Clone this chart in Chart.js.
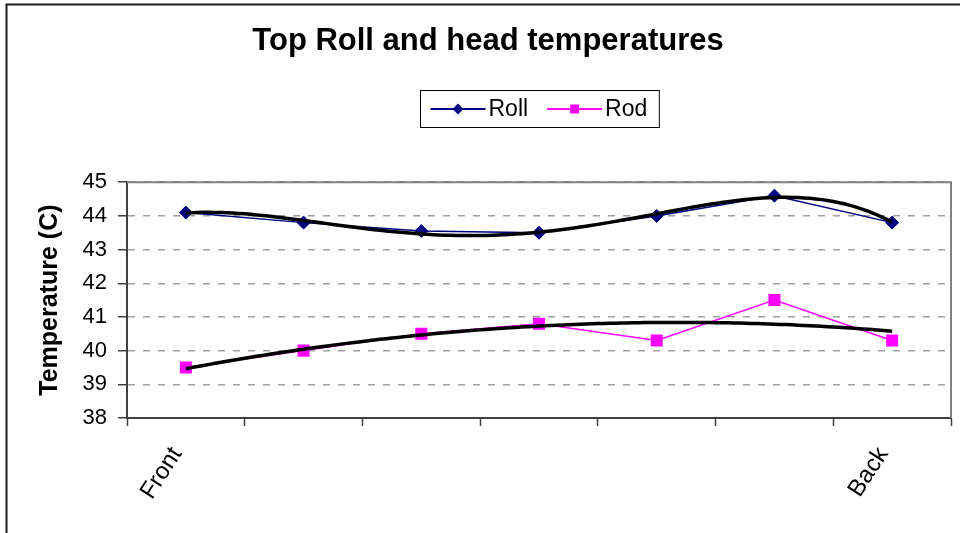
<!DOCTYPE html>
<html>
<head>
<meta charset="utf-8">
<title>Top Roll and head temperatures</title>
<script src="https://cdn.jsdelivr.net/npm/chart.js@4.4.1/dist/chart.umd.min.js"></script>
<style>
html, body { margin: 0; padding: 0; background: #fff; }
canvas { display: block; }
</style>
</head>
<body>
<canvas id="chart" width="960" height="533"></canvas>
<script>
// Measuring positions along the roll, front to back
const categories = ['Front', '', '', '', '', '', 'Back'];
const seriesNames = ['Roll', 'Rod'];
const rollTemps = [44.1, 43.8, 43.55, 43.5, 44.0, 44.6, 43.8];
const rodTemps = [39.5, 40.0, 40.5, 40.8, 40.3, 41.5, 40.3];
const yTicks = [38, 39, 40, 41, 42, 43, 44, 45];
// Polynomial trendline orders for each series
const rollTrendOrder = 4;
const rodTrendOrder = 2;

const FONT = "'Liberation Sans', Arial, Helvetica, sans-serif";
const ROLL_COLOR = '#000080';
const ROD_COLOR = '#FF00FF';

// Least-squares polynomial fit over the category indices
function polyFit(ys, order) {
  const n = ys.length, xc = (n - 1) / 2, m = order + 1;
  const A = Array.from({ length: m }, () => new Array(m + 1).fill(0));
  for (let i = 0; i < n; i++) {
    const x = i - xc;
    for (let r = 0; r < m; r++) {
      for (let c = 0; c < m; c++) A[r][c] += Math.pow(x, r + c);
      A[r][m] += Math.pow(x, r) * ys[i];
    }
  }
  for (let col = 0; col < m; col++) {
    let piv = col;
    for (let r = col + 1; r < m; r++) if (Math.abs(A[r][col]) > Math.abs(A[piv][col])) piv = r;
    [A[col], A[piv]] = [A[piv], A[col]];
    for (let r = 0; r < m; r++) {
      if (r === col) continue;
      const f = A[r][col] / A[col][col];
      for (let c = col; c <= m; c++) A[r][c] -= f * A[col][c];
    }
  }
  const coef = A.map((row, i) => row[m] / row[i]);
  return x => coef.reduce((s, c, k) => s + c * Math.pow(x - xc, k), 0);
}

function trendPoints(ys, order) {
  const f = polyFit(ys, order);
  const steps = 120, pts = [];
  for (let s = 0; s <= steps; s++) {
    const x = (ys.length - 1) * s / steps;
    pts.push({ x, y: f(x) });
  }
  return pts;
}

// White background, outer chart frame and the grey plot-area border
const framePlugin = {
  id: 'frame',
  beforeDraw(chart) {
    const { ctx, width, height } = chart;
    ctx.save();
    ctx.fillStyle = '#fff';
    ctx.fillRect(0, 0, width, height);
    ctx.strokeStyle = '#1a1a1a';
    ctx.lineWidth = 2;
    ctx.beginPath();
    ctx.moveTo(6.5, height);
    ctx.lineTo(6.5, 4.5);
    ctx.lineTo(width, 4.5);
    ctx.stroke();
    ctx.restore();
  },
  beforeDatasetsDraw(chart) {
    const { ctx, chartArea: a } = chart;
    ctx.save();
    ctx.strokeStyle = '#808080';
    ctx.lineWidth = 2;
    ctx.beginPath();
    ctx.moveTo(a.left, a.top);
    ctx.lineTo(a.right, a.top);
    ctx.lineTo(a.right, a.bottom);
    ctx.stroke();
    ctx.restore();
  }
};

// Boxed legend with line-and-marker samples, centred over the plot area
const seriesLegendPlugin = {
  id: 'seriesLegend',
  afterDraw(chart) {
    const { ctx, chartArea: a } = chart;
    const items = chart.data.datasets.filter(d => seriesNames.includes(d.label));
    ctx.save();
    ctx.font = `23px ${FONT}`;
    const lineLen = 55, padL = 10, padR = 12, gapText = 3, gapItem = 19;
    let w = padL + padR;
    items.forEach((d, i) => { w += lineLen + gapText + ctx.measureText(d.label).width + (i ? gapItem : 0); });
    const top = 90, h = 37;
    const left = Math.round((a.left + a.right) / 2 - w / 2) + 0.5;
    ctx.fillStyle = '#fff';
    ctx.fillRect(left, top + 0.5, w, h);
    ctx.strokeStyle = '#000';
    ctx.lineWidth = 1;
    ctx.strokeRect(left, top + 0.5, w, h);
    const cy = top + 0.5 + h / 2;
    let x = left + padL;
    items.forEach((d, i) => {
      if (i) x += gapItem;
      ctx.strokeStyle = d.borderColor;
      ctx.lineWidth = 2;
      ctx.beginPath();
      ctx.moveTo(x, cy);
      ctx.lineTo(x + lineLen, cy);
      ctx.stroke();
      const mx = x + lineLen / 2;
      ctx.fillStyle = d.pointBackgroundColor;
      ctx.beginPath();
      if (d.pointStyle === 'rectRot') {
        const r = 5.5;
        ctx.moveTo(mx, cy - r); ctx.lineTo(mx + r, cy); ctx.lineTo(mx, cy + r); ctx.lineTo(mx - r, cy);
        ctx.closePath();
      } else {
        const s = 4.5;
        ctx.rect(mx - s, cy - s, 2 * s, 2 * s);
      }
      ctx.fill();
      x += lineLen + gapText;
      ctx.fillStyle = '#000';
      ctx.textBaseline = 'middle';
      ctx.textAlign = 'left';
      ctx.fillText(d.label, x, cy + 1);
      x += ctx.measureText(d.label).width;
    });
    ctx.restore();
  }
};

new Chart(document.getElementById('chart'), {
  type: 'line',
  data: {
    labels: categories,
    datasets: [
      {
        label: 'Roll trend',
        data: trendPoints(rollTemps, rollTrendOrder),
        xAxisID: 'xt',
        borderColor: '#000',
        borderWidth: 3.5,
        pointRadius: 0,
        tension: 0,
        order: 0
      },
      {
        label: 'Rod trend',
        data: trendPoints(rodTemps, rodTrendOrder),
        xAxisID: 'xt',
        borderColor: '#000',
        borderWidth: 3.5,
        pointRadius: 0,
        tension: 0,
        order: 0
      },
      {
        label: seriesNames[0],
        data: rollTemps,
        xAxisID: 'x',
        borderColor: ROLL_COLOR,
        borderWidth: 1.5,
        pointStyle: 'rectRot',
        pointRadius: 6.5,
        pointBackgroundColor: ROLL_COLOR,
        pointBorderColor: ROLL_COLOR,
        pointBorderWidth: 1,
        tension: 0,
        order: 1
      },
      {
        label: seriesNames[1],
        data: rodTemps,
        xAxisID: 'x',
        borderColor: ROD_COLOR,
        borderWidth: 1.5,
        pointStyle: 'rect',
        pointRadius: 8.5,
        pointBackgroundColor: ROD_COLOR,
        pointBorderColor: ROD_COLOR,
        pointBorderWidth: 0,
        tension: 0,
        order: 1
      }
    ]
  },
  options: {
    responsive: false,
    devicePixelRatio: 1,
    animation: false,
    events: [],
    layout: { padding: { left: 25, right: 9, top: 0, bottom: 0 } },
    plugins: {
      legend: { display: false },
      tooltip: { enabled: false },
      title: {
        display: true,
        text: 'Top Roll and head temperatures',
        color: '#000',
        font: { family: FONT, size: 31, weight: 'bold' },
        padding: { top: 23, bottom: 122 }
      }
    },
    scales: {
      x: {
        type: 'category',
        position: 'bottom',
        offset: true,
        afterFit(scale) { scale.height = 115; },
        grid: {
          offset: true,
          drawOnChartArea: false,
          drawTicks: true,
          tickLength: 8,
          tickWidth: 1.5,
          tickColor: '#404040',
          color: '#404040'
        },
        border: { color: '#404040', width: 2 },
        ticks: {
          autoSkip: false,
          minRotation: 57,
          maxRotation: 57,
          labelOffset: -9,
          padding: 16,
          color: '#000',
          font: { family: FONT, size: 24 }
        }
      },
      xt: {
        type: 'linear',
        position: 'bottom',
        display: false,
        min: -0.5,
        max: categories.length - 0.5
      },
      y: {
        min: yTicks[0],
        max: yTicks[yTicks.length - 1],
        afterFit(scale) { scale.width = 102; },
        afterBuildTicks(scale) { scale.ticks = yTicks.map(v => ({ value: v })); },
        ticks: {
          color: '#000',
          padding: 11,
          font: { family: FONT, size: 22 }
        },
        grid: {
          color: '#a0a0a0',
          lineWidth: 1.5,
          tickLength: 9,
          tickWidth: 1.5,
          tickColor: '#404040',
          tickBorderDash: []
        },
        border: { color: '#404040', width: 2, dash: [7, 8] },
        title: {
          display: true,
          text: 'Temperature (C)',
          color: '#000',
          font: { family: FONT, size: 25, weight: 'bold' },
          padding: { top: 10, bottom: 0 }
        }
      }
    }
  },
  plugins: [framePlugin, seriesLegendPlugin]
});
</script>
</body>
</html>
